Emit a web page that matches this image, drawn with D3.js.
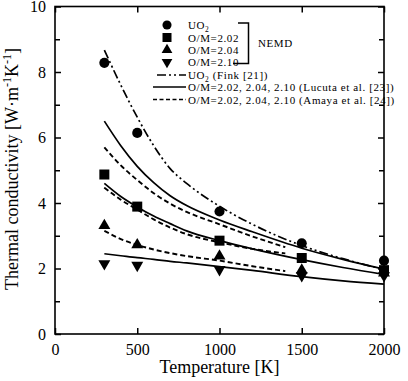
<!DOCTYPE html>
<html><head><meta charset="utf-8">
<script src="https://cdn.jsdelivr.net/npm/d3@7"></script>
<style>body{margin:0;background:#fff} svg text{font-family:"Liberation Serif","Times New Roman",serif !important;fill:#000}</style>
</head><body><svg id="c" width="408" height="381"></svg>
<script>
// NEMD points
const temps = [300, 500, 1000, 1500, 2000];
const nemdUO2 = [8.28, 6.14, 3.74, 2.77, 2.24];
const nemd202 = [4.87, 3.89, 2.85, 2.32, 1.95];
const nemd204 = [3.31, 2.72, 2.38, 1.95, 1.86];
const nemd210 = [2.15, 2.10, 1.97, 1.78, 1.78];
// Fink correlation for UO2
const finkT = [300, 400, 500, 600, 700, 800, 1000, 1200, 1500, 1750, 2000];
const finkK = [8.67, 7.6, 6.62, 5.75, 5.05, 4.6, 3.9, 3.35, 2.7, 2.3, 1.97];
// Lucuta et al.
const lucutaT = [300, 400, 500, 600, 700, 800, 1000, 1200, 1500, 1750, 2000];
const lucuta202 = [6.5, 5.75, 5.12, 4.62, 4.22, 3.92, 3.48, 3.12, 2.62, 2.28, 1.98];
const lucuta204 = [4.6, 4.2, 3.88, 3.6, 3.37, 3.15, 2.85, 2.6, 2.27, 2.03, 1.82];
const lucuta210 = [2.45, 2.39, 2.33, 2.28, 2.22, 2.17, 2.06, 1.94, 1.75, 1.62, 1.52];
// Amaya et al.
const amayaT = [300, 400, 500, 600, 700, 800, 1000, 1200, 1400];
const amaya202 = [5.7, 5.15, 4.7, 4.3, 3.98, 3.73, 3.35, 2.98, 2.65];
const amaya204 = [4.47, 4.1, 3.8, 3.5, 3.25, 3.05, 2.8, 2.6, 2.46];
const amaya210 = [3.15, 2.9, 2.72, 2.58, 2.47, 2.38, 2.24, 2.07, 1.92];
// ticks
const xTicks = [0, 500, 1000, 1500, 2000];
const yTicks = [0, 2, 4, 6, 8, 10];
const yMinor = [1, 3, 5, 7, 9];

const svg = d3.select("#c");
const L = 55, R = 384, T = 6.5, B = 334;
const x = d3.scaleLinear().domain([0, 2000]).range([L, R]);
const y = d3.scaleLinear().domain([0, 10]).range([B, T]);
const FONT = '"Liberation Serif", "Times New Roman", serif';

// axes
const gB = svg.append("g").attr("transform", `translate(0,${B})`)
  .call(d3.axisBottom(x).tickValues(xTicks).tickSizeInner(-6).tickSizeOuter(0).tickPadding(10).tickFormat(d3.format("d")));
const gT = svg.append("g").attr("transform", `translate(0,${T})`)
  .call(d3.axisTop(x).tickValues(xTicks).tickSizeInner(-6).tickSizeOuter(0).tickFormat(""));
const gL = svg.append("g").attr("transform", `translate(${L},0)`)
  .call(d3.axisLeft(y).tickValues(yTicks).tickSizeInner(-6).tickSizeOuter(0).tickPadding(9).tickFormat(d3.format("d")));
const gLm = svg.append("g").attr("transform", `translate(${L},0)`)
  .call(d3.axisLeft(y).tickValues(yMinor).tickSizeInner(-5).tickSizeOuter(0).tickFormat(""));
const gR = svg.append("g").attr("transform", `translate(${R},0)`)
  .call(d3.axisRight(y).tickValues(yTicks).tickSizeInner(-6).tickSizeOuter(0).tickFormat(""));
const gRm = svg.append("g").attr("transform", `translate(${R},0)`)
  .call(d3.axisRight(y).tickValues(yMinor).tickSizeInner(-5).tickSizeOuter(0).tickFormat(""));
[gB, gT, gL, gLm, gR, gRm].forEach(g => {
  g.attr("font-family", null);
  g.select(".domain").remove();
  g.selectAll("line").attr("stroke", "#000").attr("stroke-width", 1.5);
  g.selectAll("text").style("font-family", FONT).attr("font-size", 16).attr("fill", "#000");
});
svg.append("rect").attr("x", L).attr("y", T).attr("width", R - L).attr("height", B - T)
  .attr("fill", "none").attr("stroke", "#000").attr("stroke-width", 1.6);

// titles
svg.append("text").attr("x", (L + R) / 2).attr("y", 373).attr("text-anchor", "middle")
  .attr("font-size", 18).text("Temperature [K]");
const yt = svg.append("text").attr("transform", "translate(18,290) rotate(-90)").attr("font-size", 18);
yt.append("tspan").text("Thermal conductivity [W·m");
yt.append("tspan").attr("font-size", 12).attr("dy", -7).text("-1");
yt.append("tspan").attr("dy", 7).text("K");
yt.append("tspan").attr("font-size", 12).attr("dy", -7).text("-1");
yt.append("tspan").attr("dy", 7).text("]");

// curves
const line = d3.line().x(d => x(d[0])).y(d => y(d[1])).curve(d3.curveMonotoneX);
const finkDash = "9,3,2,3,2,3", amayaDash = "5,3";
function drawCurve(ts, ks, dash, w) {
  svg.append("path").datum(ts.map((t, i) => [t, ks[i]])).attr("d", line)
    .attr("fill", "none").attr("stroke", "#000").attr("stroke-width", w)
    .attr("stroke-dasharray", dash);
}
drawCurve(finkT, finkK, finkDash, 1.7);
[lucuta202, lucuta204, lucuta210].forEach(k => drawCurve(lucutaT, k, null, 1.7));
[amaya202, amaya204, amaya210].forEach(k => drawCurve(amayaT, k, amayaDash, 1.9));

// markers
const sym = {
  circle: d3.symbol().type(d3.symbolCircle).size(80)(),
  square: d3.symbol().type(d3.symbolSquare).size(100)(),
  tri: d3.symbol().type(d3.symbolTriangle).size(62)()
};
function drawPts(vals, path, rot) {
  svg.append("g").selectAll("path").data(vals).join("path")
    .attr("d", path).attr("fill", "#000")
    .attr("transform", (d, i) => `translate(${x(temps[i])},${y(d)}) rotate(${rot})`);
}
drawPts(nemdUO2, sym.circle, 0);
drawPts(nemd202, sym.square, 0);
drawPts(nemd204, sym.tri, 0);
drawPts(nemd210, sym.tri, 180);

// legend
const lg = svg.append("g");
const mx = 167, tx = 188, FS = 11, LS = "0.6px";
const rows = [
  {p: sym.circle, r: 0, y: 25, label: "UO", sub: "2"},
  {p: sym.square, r: 0, y: 37.5, label: "O/M=2.02"},
  {p: sym.tri, r: 0, y: 50, label: "O/M=2.04"},
  {p: sym.tri, r: 180, y: 62, label: "O/M=2.10"}
];
rows.forEach(rw => {
  lg.append("path").attr("d", rw.p).attr("fill", "#000")
    .attr("transform", `translate(${mx},${rw.y}) rotate(${rw.r}) scale(0.9)`);
  const t = lg.append("text").attr("x", tx).attr("y", rw.y + 4).attr("font-size", FS)
    .style("letter-spacing", LS).text(rw.label);
  if (rw.sub) t.append("tspan").attr("font-size", 7.5).attr("dy", 2.5).text(rw.sub);
});
lg.append("path").attr("d", "M238,23H248.5V63.5H233").attr("fill", "none").attr("stroke", "#000").attr("stroke-width", 1.5);
lg.append("text").attr("x", 258).attr("y", 47).attr("font-size", FS).style("letter-spacing", LS).text("NEMD");
const lrows = [
  {dash: finkDash, y: 75, x0: 157, w: 1.5},
  {dash: null, y: 87, x0: 153, w: 1.5},
  {dash: "4,2.5", y: 99.5, x0: 153, w: 1.5}
];
lrows.forEach(r => lg.append("line").attr("x1", r.x0).attr("x2", 186).attr("y1", r.y).attr("y2", r.y)
  .attr("stroke", "#000").attr("stroke-width", r.w).attr("stroke-dasharray", r.dash));
const t1 = lg.append("text").attr("x", tx).attr("y", 79).attr("font-size", FS).style("letter-spacing", LS).text("UO");
t1.append("tspan").attr("font-size", 7.5).attr("dy", 2.5).text("2");
t1.append("tspan").attr("dy", -2.5).text(" (Fink [21])");
lg.append("text").attr("x", tx).attr("y", 91).attr("font-size", FS).style("letter-spacing", LS)
  .text("O/M=2.02, 2.04, 2.10 (Lucuta et al. [23])");
lg.append("text").attr("x", tx).attr("y", 103.5).attr("font-size", FS).style("letter-spacing", LS)
  .text("O/M=2.02, 2.04, 2.10 (Amaya et al. [24])");
</script></body></html>
